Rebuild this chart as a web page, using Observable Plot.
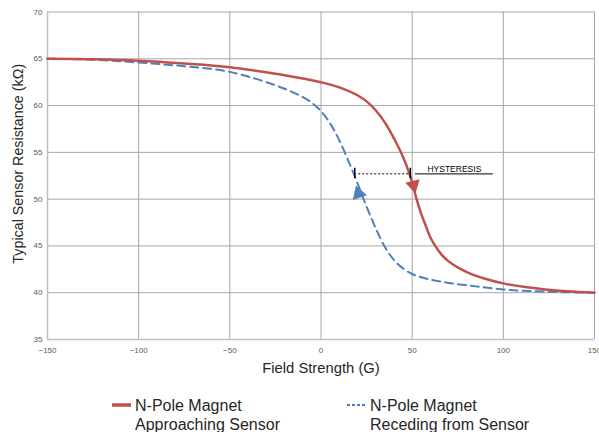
<!DOCTYPE html>
<html>
<head>
<meta charset="utf-8">
<script src="https://cdn.jsdelivr.net/npm/d3@7"></script>
<script src="https://cdn.jsdelivr.net/npm/@observablehq/plot@0.6"></script>
<style>
  html, body { margin: 0; padding: 0; background: #fff; }
  #wrap { width: 599px; font-family: "Liberation Sans", Arial, sans-serif; }
  #legend { position: relative; width: 599px; height: 47px; color: #262626; font-size: 16px; }
  #legend .item { position: absolute; line-height: 19px; white-space: nowrap; }
  #legend svg { position: absolute; }
</style>
</head>
<body>
<div id="wrap">
  <div id="chart"></div>
  <div id="legend"></div>
</div>
<script>
// ---- data ----
const xTicks = [-150, -100, -50, 0, 50, 100, 150];
const yTicks = [35, 40, 45, 50, 55, 60, 65, 70];

const approachField = [-150, -125, -100, -75, -50, -25, 0, 10, 20, 25, 30, 35, 40, 45, 48, 50, 52, 55, 57, 60, 63, 66, 70, 75, 80, 85, 90, 100, 112, 123, 135, 150];
const approachRes   = [65.0, 64.95, 64.8, 64.5, 64.1, 63.4, 62.5, 61.95, 61.1, 60.45, 59.5, 58.2, 56.5, 54.5, 53.0, 51.8, 50.3, 48.4, 47.4, 45.9, 44.9, 44.1, 43.35, 42.7, 42.2, 41.8, 41.5, 41.0, 40.6, 40.35, 40.15, 40.0];

const recedeField = [-150, -125, -100, -75, -50, -40, -30, -20, -10, -5, 0, 5, 10, 15, 20, 25, 30, 35, 40, 45, 50, 55, 60, 70, 80, 100, 125, 150];
const recedeRes   = [65.0, 64.9, 64.6, 64.2, 63.6, 63.1, 62.5, 61.8, 60.9, 60.3, 59.4, 58.1, 56.3, 54.1, 51.7, 49.2, 46.9, 44.9, 43.5, 42.6, 42.0, 41.65, 41.4, 41.05, 40.8, 40.35, 40.1, 40.0];

const seriesNames = ["N-Pole Magnet\nApproaching Sensor", "N-Pole Magnet\nReceding from Sensor"];
const seriesColors = ["#c0504d", "#4f81bd"];

// hysteresis annotation (data coordinates)
const hystStart = 18.5;
const hystEnd = 49;
const hystLevel = 52.7;
const hystTickLow = 52.2;
const hystTickHigh = 53.3;
const hystLabelStart = 51.8;
const hystLabelEnd = 94.5;
const hystLabel = "HYSTERESIS";

// direction arrows on the curves
const arrowField = [50.7, 20.6];
const arrowRes = [51.5, 50.6];
const arrowRotate = [166, -18];

// ---- build tables ----
const approach = approachField.map((x, i) => ({x, y: approachRes[i]}));
const recede = recedeField.map((x, i) => ({x, y: recedeRes[i]}));
const arrows = arrowField.map((x, i) => ({x, y: arrowRes[i], r: arrowRotate[i], c: seriesColors[i]}));

const chart = Plot.plot({
  width: 599,
  height: 385,
  marginLeft: 47,
  marginRight: 5,
  marginTop: 11.5,
  marginBottom: 46,
  style: {fontFamily: "'Liberation Sans', Arial, sans-serif", background: "#fff", overflow: "visible"},
  x: {domain: [-150, 150]},
  y: {domain: [35, 70]},
  marks: [
    Plot.gridX(xTicks, {stroke: "#a6a6a6", strokeOpacity: 1, strokeWidth: 1}),
    Plot.gridY(yTicks, {stroke: "#a6a6a6", strokeOpacity: 1, strokeWidth: 1}),
    Plot.ruleX([-150], {stroke: "#bfbfbf", strokeWidth: 1.5}),
    Plot.ruleY([35], {stroke: "#bfbfbf", strokeWidth: 1.5}),
    Plot.axisX(xTicks, {tickSize: 0, tickPadding: 8, fontSize: 8, fill: "#595959", label: null}),
    Plot.axisY(yTicks, {tickSize: 0, tickPadding: 5, fontSize: 8, fill: "#595959", label: null}),
    Plot.text(["Field Strength (G)"], {frameAnchor: "bottom", dy: 29, fontSize: 14.8, fill: "#262626", lineAnchor: "middle"}),
    Plot.text(["Typical Sensor Resistance (kΩ)"], {frameAnchor: "left", textAnchor: "middle", dx: -29, dy: -12, rotate: -90, fontSize: 14.3, fill: "#262626", lineAnchor: "middle"}),
    Plot.line(recede, {x: "x", y: "y", stroke: seriesColors[1], strokeWidth: 2, strokeDasharray: "8,5", curve: "monotone-x"}),
    Plot.line(approach, {x: "x", y: "y", stroke: seriesColors[0], strokeWidth: 2.5, curve: "monotone-x"}),
    // hysteresis annotation
    Plot.ruleY([hystLevel], {x1: hystStart, x2: hystEnd, stroke: "#000", strokeWidth: 1, strokeDasharray: "2,2"}),
    Plot.ruleX([hystStart, hystEnd], {y1: hystTickLow, y2: hystTickHigh, stroke: "#000", strokeWidth: 1.5}),
    Plot.ruleY([hystLevel], {x1: hystLabelStart, x2: hystLabelEnd, stroke: "#000", strokeWidth: 1}),
    Plot.text([hystLabel], {x: (hystLabelStart + hystLabelEnd) / 2, y: hystLevel, dy: -2, lineAnchor: "bottom", fontSize: 8.5, fill: "#000"}),
    // arrows
    Plot.dot(arrows, {x: "x", y: "y", symbol: "triangle", r: 5.5, fill: "c", rotate: "r", stroke: "none"})
  ]
});
document.getElementById("chart").appendChild(chart);

// ---- legend ----
const legend = document.getElementById("legend");
const items = [
  {left: 112, textLeft: 135, dash: null},
  {left: 347, textLeft: 370, dash: "3,2"}
];
items.forEach((it, i) => {
  const ns = "http://www.w3.org/2000/svg";
  const s = document.createElementNS(ns, "svg");
  s.setAttribute("width", 20);
  s.setAttribute("height", 6);
  s.style.left = it.left + "px";
  s.style.top = "17px";
  const l = document.createElementNS(ns, "line");
  l.setAttribute("x1", 0); l.setAttribute("x2", 19);
  l.setAttribute("y1", 3); l.setAttribute("y2", 3);
  l.setAttribute("stroke", seriesColors[i]);
  l.setAttribute("stroke-width", it.dash ? 2.2 : 3.5);
  if (it.dash) l.setAttribute("stroke-dasharray", it.dash);
  s.appendChild(l);
  legend.appendChild(s);
  const t = document.createElement("div");
  t.className = "item";
  t.style.left = it.textLeft + "px";
  t.style.top = "10.5px";
  t.innerHTML = seriesNames[i].split("\n").join("<br>");
  legend.appendChild(t);
});
</script>
</body>
</html>
